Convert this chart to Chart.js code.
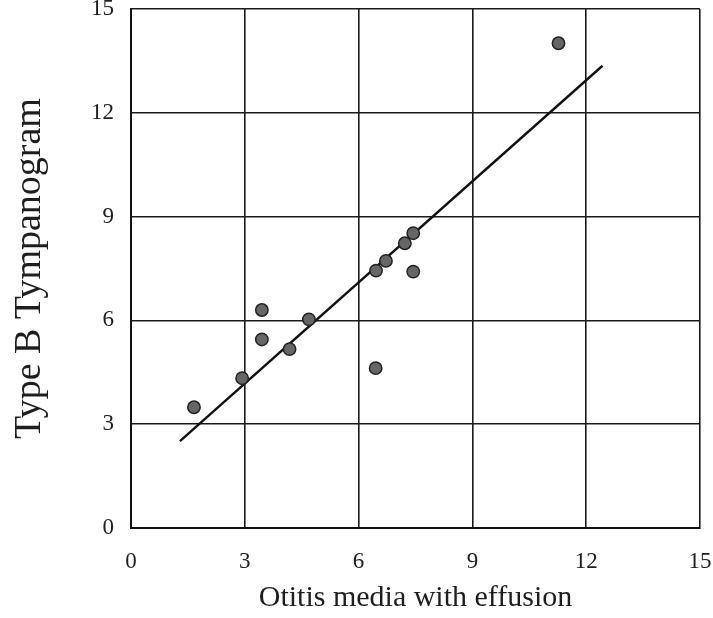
<!DOCTYPE html>
<html>
<head>
<meta charset="utf-8">
<script src="https://cdn.jsdelivr.net/npm/chart.js@4/dist/chart.umd.min.js"></script>
<style>
  html, body { margin: 0; padding: 0; background: #ffffff; }
  #wrap { width: 713px; height: 618px; }
</style>
</head>
<body>
<div id="wrap"><canvas id="c" width="713" height="618"></canvas></div>
<script>
// Otitis media with effusion (x) vs Type B tympanogram (y), one point per case
const omeValues   = [1.66, 2.93, 3.45, 3.45, 4.18, 4.69, 6.45, 6.46, 6.72, 7.22, 7.44, 7.44, 11.27];
const typeBValues = [3.49, 4.33, 6.30, 5.45, 5.17, 6.03, 4.62, 7.44, 7.72, 8.23, 8.52, 7.41, 14.01];

// Fitted regression line, drawn between its two end points
const fitX = [1.29, 12.43];
const fitY = [2.51, 13.36];

// Axis ticks shared by both axes
const tickValues = [0, 3, 6, 9, 12, 15];

const xTitle = 'Otitis media with effusion';
const yTitle = 'Type B Tympanogram';

const points = omeValues.map((x, i) => ({ x: x, y: typeBValues[i] }));
const fitLine = fitX.map((x, i) => ({ x: x, y: fitY[i] }));

const serif = 'Liberation Serif, Times New Roman, serif';
const ink = '#1e1e1e';

new Chart(document.getElementById('c'), {
  type: 'scatter',
  data: {
    datasets: [
      {
        label: 'Fit',
        data: fitLine,
        showLine: true,
        borderColor: '#111111',
        borderWidth: 2.4,
        pointRadius: 0,
        fill: false,
        order: 2
      },
      {
        label: 'Cases',
        data: points,
        pointRadius: 6.2,
        pointBackgroundColor: '#666666',
        pointBorderColor: '#222222',
        pointBorderWidth: 1.5,
        order: 1
      }
    ]
  },
  options: {
    responsive: false,
    animation: false,
    devicePixelRatio: 1,
    layout: { padding: { top: 9, right: 13, left: 0, bottom: 0 } },
    plugins: {
      legend: { display: false },
      tooltip: { enabled: false }
    },
    scales: {
      x: {
        type: 'linear',
        min: 0,
        max: 15,
        afterBuildTicks: (s) => { s.ticks = tickValues.map(v => ({ value: v })); },
        afterFit: (s) => { s.height = 90; },
        grid: {
          color: '#1a1a1a',
          lineWidth: 1.6,
          drawTicks: true,
          tickLength: 20,
          tickColor: 'rgba(0,0,0,0)'
        },
        border: { display: true, color: '#111111', width: 2 },
        ticks: {
          color: ink,
          padding: 0,
          maxRotation: 0,
          font: { family: serif, size: 23, lineHeight: 1.2 }
        },
        title: {
          display: true,
          text: xTitle,
          color: ink,
          padding: { top: 2, bottom: 2 },
          font: { family: serif, size: 30, lineHeight: 1.2 }
        }
      },
      y: {
        type: 'linear',
        min: 0,
        max: 15,
        afterBuildTicks: (s) => { s.ticks = tickValues.map(v => ({ value: v })); },
        afterFit: (s) => { s.width = 131; },
        grid: {
          color: '#1a1a1a',
          lineWidth: 1.6,
          drawTicks: true,
          tickLength: 17,
          tickColor: 'rgba(0,0,0,0)'
        },
        border: { display: true, color: '#111111', width: 2 },
        ticks: {
          color: ink,
          padding: 0,
          font: { family: serif, size: 23, lineHeight: 0.75 }
        },
        title: {
          display: true,
          text: yTitle,
          color: ink,
          padding: { top: 7, bottom: 0 },
          font: { family: serif, size: 38, lineHeight: 1.2 }
        }
      }
    }
  }
});
</script>
</body>
</html>
